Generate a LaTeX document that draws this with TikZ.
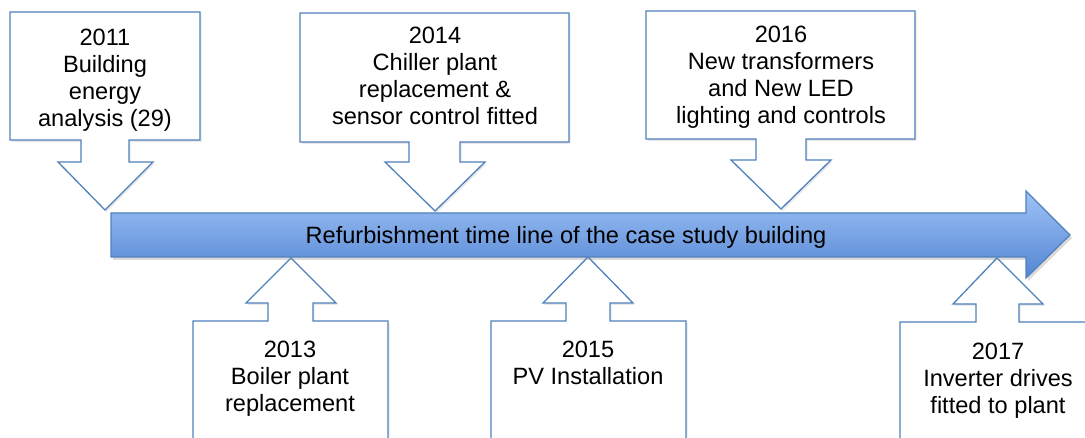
\documentclass[tikz,border=0pt]{standalone}
\usepackage{fontspec}
\setmainfont{Liberation Sans}
\usepackage{tikz}
\usetikzlibrary{shadows}
\definecolor{lineblue}{RGB}{79,129,189}
\definecolor{barlight}{RGB}{158,194,245}
\definecolor{bardark}{RGB}{84,134,212}
\tikzset{
  callout/.style={
    draw=lineblue,
    line width=1.3pt,
    fill=white,
    drop shadow={shadow xshift=1.5pt, shadow yshift=-2pt, opacity=0.18}
  },
  timeline/.style={
    draw=lineblue,
    line width=1.2pt,
    top color=barlight,
    bottom color=bardark,
    drop shadow={shadow xshift=2pt, shadow yshift=-3pt, opacity=0.3}
  },
  event label/.style={
    anchor=north,
    inner sep=0pt,
    align=center,
    font=\fontsize{23.6}{27}\selectfont
  },
  line label/.style={
    anchor=base,
    inner sep=0pt,
    font=\fontsize{23.6}{27}\selectfont
  }
}

\begin{document}
\begin{tikzpicture}[x=1pt, y=-1pt]
    \useasboundingbox (0,0) rectangle (1085,438);
    \clip (0,0) rectangle (1085,438);

    % upper callouts
    % 2011
    \filldraw[callout] (10,12) -- (200,12) -- (200,140) -- (129,140) -- (129,162) -- (153,162)
      -- (105,210) -- (58,162) -- (81,162) -- (81,140) -- (10,140) -- cycle;
    \node[event label] (y2011) at (105,29) {2011\\Building\\energy\\analysis (29)};

    % 2014
    \filldraw[callout] (300,13) -- (569,13) -- (569,142) -- (460,142) -- (460,162) -- (485,162)
      -- (435,211) -- (385,162) -- (409,162) -- (409,142) -- (300,142) -- cycle;
    \node[event label] (y2014) at (435,27) {2014\\Chiller plant\\replacement \&\\sensor control fitted};

    % 2016
    \filldraw[callout] (646,11) -- (915,11) -- (915,139) -- (806,139) -- (806,160) -- (831,160)
      -- (781,209) -- (731,160) -- (756,160) -- (756,139) -- (646,139) -- cycle;
    \node[event label] (y2016) at (781,26) {2016\\New transformers\\and New LED\\lighting and controls};

    % lower callouts
    % 2013
    \filldraw[callout] (193,460) -- (193,321) -- (268,321) -- (268,303) -- (246,303)
      -- (291,258) -- (336,303) -- (313,303) -- (313,321) -- (388,321) -- (388,460) -- cycle;
    \node[event label] (y2013) at (290,341) {2013\\Boiler plant\\replacement};

    % 2015
    \filldraw[callout] (491,460) -- (491,321) -- (566,321) -- (566,303) -- (543,303)
      -- (588,257) -- (633,303) -- (610,303) -- (610,321) -- (686,321) -- (686,460) -- cycle;
    \node[event label] (y2015) at (588,341) {2015\\PV Installation};

    % 2017
    \filldraw[callout] (900,460) -- (900,322) -- (976,322) -- (976,304) -- (953,304)
      -- (997,258) -- (1043,304) -- (1019,304) -- (1019,322) -- (1100,322) -- (1100,460) -- cycle;
    \node[event label] (y2017) at (998,343) {2017\\Inverter drives\\fitted to plant};

    % time line arrow
    \path[timeline] (111,213) -- (1026,213) -- (1026,191) -- (1070,235) -- (1026,278)
      -- (1026,257) -- (111,257) -- cycle;
    \node[line label] (title) at (566,244) {Refurbishment time line of the case study building};

  \end{tikzpicture}
\end{document}
